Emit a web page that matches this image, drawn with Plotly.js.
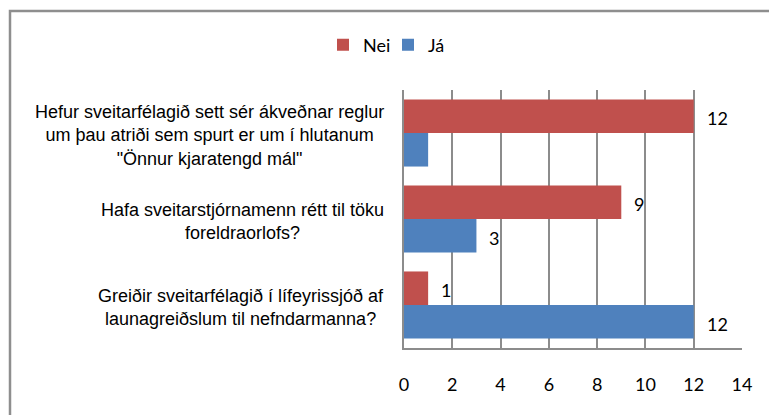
<!DOCTYPE html>
<html>
<head>
<meta charset="utf-8">
<script src="https://cdn.plot.ly/plotly-3.0.1.min.js"></script>
<style>
  html, body { margin: 0; padding: 0; background: #ffffff; }
  #chart { width: 769px; height: 415px; }
</style>
</head>
<body>
<div id="chart"></div>
<script>
// Categories, top to bottom
var categories = [
  'Hefur sveitarfélagið sett sér ákveðnar reglur<br>um þau atriði sem spurt er um í hlutanum<br>"Önnur kjaratengd mál"',
  'Hafa sveitarstjórnamenn rétt til töku<br>foreldraorlofs?',
  'Greiðir sveitarfélagið í lífeyrissjóð af<br>launagreiðslum til nefndarmanna?'
];
var seriesNames = ['Nei', 'Já'];
var neiValues = [12, 9, 1];
var jaValues = [1, 3, 12];
var neiLabels = ['12', '9', '1'];
var jaLabels = ['', '3', '12'];
var xTicks = [0, 2, 4, 6, 8, 10, 12, 14];

var colors = ['#C0504D', '#4F81BD'];
var gridColor = '#8C8C8C';
var labelFont = 'Lato, "Open Sans", sans-serif';

var traces = [
  {type: 'bar', orientation: 'h', name: seriesNames[0], y: categories, x: neiValues,
   marker: {color: colors[0]}, hoverinfo: 'skip'},
  {type: 'bar', orientation: 'h', name: seriesNames[1], y: categories, x: jaValues,
   marker: {color: colors[1]}, hoverinfo: 'skip'}
];

var bargap = 0.22;
var half = (1 - bargap) / 4; // offset of each bar centre from category centre
var annotations = [];
// category labels (centred blocks, right edge next to the axis)
categories.forEach(function (c, i) {
  annotations.push({
    xref: 'paper', yref: 'y', x: -0.053, y: i, xanchor: 'right', yanchor: 'middle',
    align: 'center', showarrow: false, text: c, yshift: -2,
    font: {family: '"Liberation Sans", Arial, sans-serif', size: 18, color: '#000000'}
  });
});
// data labels
[[neiValues, neiLabels, -half], [jaValues, jaLabels, half]].forEach(function (s) {
  s[0].forEach(function (v, i) {
    if (!s[1][i]) return;
    annotations.push({
      xref: 'x', yref: 'y', x: v, y: i + s[2], xanchor: 'left', yanchor: 'middle',
      xshift: 11, yshift: -2, showarrow: false, text: s[1][i],
      font: {family: labelFont, size: 18, color: '#000000'}
    });
  });
});

var plotL = 404, plotW = 338, plotT = 90, plotH = 258;
function px2x(p) { return (p - plotL) / plotW; }
function py2y(p) { return (plotT + plotH - p) / plotH; }

var layout = {
  width: 769, height: 415,
  margin: {l: plotL, r: 769 - plotL - plotW, t: plotT, b: 415 - plotT - plotH, pad: 0},
  paper_bgcolor: '#ffffff', plot_bgcolor: '#ffffff',
  barmode: 'group', bargap: bargap, bargroupgap: 0,
  showlegend: true,
  legend: {
    orientation: 'h', x: px2x(388), xanchor: 'center', y: py2y(45), yanchor: 'middle',
    font: {family: labelFont, size: 18, color: '#000000'},
    entrywidth: 20, entrywidthmode: 'pixels',
    traceorder: 'normal', itemclick: false, itemdoubleclick: false
  },
  xaxis: {
    range: [0, 14], tickvals: xTicks, ticktext: xTicks.map(String),
    showgrid: true, gridcolor: gridColor, gridwidth: 2,
    showline: true, linecolor: gridColor, linewidth: 2,
    zeroline: false, ticks: '', ticklabelstandoff: 19,
    tickfont: {family: labelFont, size: 18, color: '#000000'},
    fixedrange: true
  },
  yaxis: {
    type: 'category', autorange: 'reversed',
    showticklabels: false, ticks: '', showgrid: false,
    showline: true, linecolor: gridColor, linewidth: 2, zeroline: false,
    fixedrange: true
  },
  annotations: annotations,
  shapes: [{
    type: 'rect', xref: 'paper', yref: 'paper', layer: 'below',
    x0: px2x(10), x1: px2x(790), y0: py2y(440), y1: py2y(11),
    line: {color: '#8E8E8E', width: 2.5}, fillcolor: 'rgba(0,0,0,0)'
  }]
};

Plotly.newPlot('chart', traces, layout, {displayModeBar: false, staticPlot: true});
</script>
</body>
</html>
